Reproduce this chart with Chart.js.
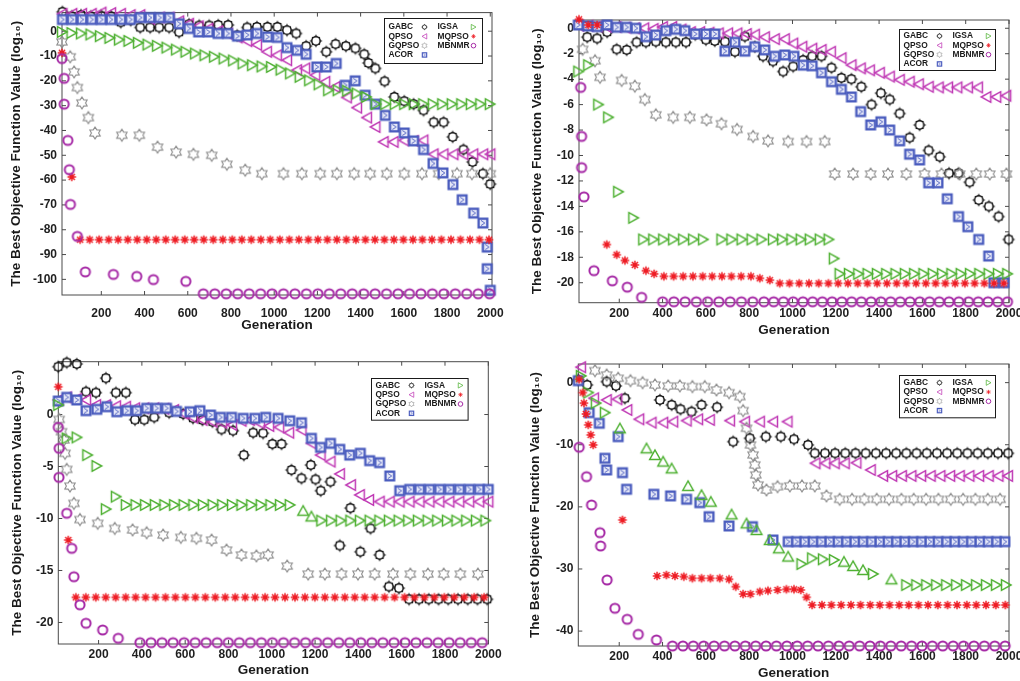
<!DOCTYPE html>
<html>
<head>
<meta charset="utf-8">
<script src="https://cdn.jsdelivr.net/npm/chart.js@4.4.1/dist/chart.umd.min.js"></script>
<style>
  body { margin: 0; background: #fff; width: 1020px; height: 681px; overflow: hidden; position: relative; }
  .cell { position: absolute; }
</style>
</head>
<body>
<div class="cell" style="left:0;top:0"><canvas id="c1" width="510" height="340"></canvas></div>
<div class="cell" style="left:510px;top:0"><canvas id="c2" width="510" height="340"></canvas></div>
<div class="cell" style="left:0;top:340px"><canvas id="c3" width="510" height="341"></canvas></div>
<div class="cell" style="left:510px;top:340px"><canvas id="c4" width="510" height="341"></canvas></div>
<script>
const seriesNames = ['GABC', 'QPSO', 'GQPSO', 'ACOR', 'IGSA', 'MQPSO', 'MBNMR'];
const markerKinds = ['gabc', 'left', 'hexa', 'acor', 'right', 'aster', 'ring'];

const xTicks = [200, 400, 600, 800, 1000, 1200, 1400, 1600, 1800, 2000];
const p1YTicks = [-100, -90, -80, -70, -60, -50, -40, -30, -20, -10, 0];
const p2YTicks = [-20, -18, -16, -14, -12, -10, -8, -6, -4, -2, 0];
const p3YTicks = [-20, -15, -10, -5, 0];
const p4YTicks = [-40, -30, -20, -10, 0];

// ---- panel 1 (top left) ----
const p1GabcX = [20,63,106,151,199,245,290,336,380,426,468,514,560,606,653,699,741,787,829,875,920,969,1015,1059,1102,1148,1193,1241,1284,1332,1376,1417,1436,1468,1511,1556,1602,1645,1691,1738,1784,1826,1876,1918,1966,2000];
const p1GabcY = [7.8,6,6.5,6,6.3,6,3.6,4.4,1.5,1.5,1.5,1.5,-0.4,2.8,2.3,2.3,2.5,2.5,-1.7,1.5,1.7,1.7,1.7,0.4,-0.9,-6,-3.9,-8.3,-5.2,-6,-6.9,-9.3,-12.8,-15,-20.2,-26.5,-28.2,-29.4,-31.9,-36.7,-36.7,-42.6,-47.7,-52.7,-57.4,-61.6];
const p1QpsoX = [20,65,110,155,200,245,290,335,380,425,470,515,560,605,650,695,740,785,830,875,920,966,1012,1059,1105,1143,1190,1236,1282,1336,1383,1429,1468,1506,1552,1600,1645,1690,1737,1783,1829,1875,1921,1967,2000];
const p1QpsoY = [7,7,7,7,7.5,7.3,7,6.5,6.5,5,5.5,5.5,4,3,2,1,0,-1,-2.5,-4,-5.5,-8.3,-9.7,-11.7,-15.7,-15,-17.7,-20.4,-22.5,-26.7,-30.8,-34.8,-38.6,-44.6,-44.6,-44,-44.2,-44,-49.6,-49.6,-49.6,-49.6,-49.6,-49.6,-49.6];
const p1GqpsoX = [18,56,74,89,110,140,171,295,376,460,546,626,711,781,866,943,1043,1128,1213,1290,1370,1444,1521,1602,1684,1761,1846,1915,2000];
const p1GqpsoY = [-4.3,-10.3,-16.4,-22.7,-28.9,-34.8,-41,-41.9,-41.9,-46.7,-48.7,-49.6,-50,-53.6,-56,-57.4,-57.4,-57.4,-57.4,-57.4,-57.4,-57.4,-57.4,-57.4,-57.4,-57.4,-57.4,-57.4,-57.4];
const p1AcorX = [20,65,110,155,200,245,290,335,380,425,470,515,560,605,650,695,740,785,830,875,920,969,1015,1059,1105,1148,1197,1241,1287,1329,1375,1421,1468,1514,1556,1602,1645,1691,1735,1781,1827,1870,1923,1966,1986,1986,2000];
const p1AcorY = [4.7,4.7,4.7,4.7,4.7,4.7,4.7,4.7,5.5,5.5,5.5,5.5,3,1.1,-0.3,-0.3,-0.9,-0.9,-2,-1.5,-0.9,-2.3,-2.5,-6.6,-7.7,-9.3,-14.4,-14.4,-13,-21.8,-20,-25.8,-29.4,-33.9,-38.6,-41,-44.2,-47.7,-53.3,-57.1,-61.8,-67.9,-73.3,-77.3,-87,-95.7,-104.4];
const p1IgsaX = [18,62,106,150,194,238,282,326,370,414,458,502,546,590,634,678,722,766,810,854,898,942,986,1030,1074,1118,1162,1206,1250,1294,1338,1382,1426,1470,1514,1558,1602,1646,1690,1734,1778,1822,1866,1910,1954,1998];
const p1IgsaY = [-0.3,-0.7,-0.9,-1.3,-2,-2.7,-3.4,-3.9,-4.7,-5.4,-5.9,-6.6,-7.4,-8.3,-9,-9.7,-10.3,-11,-11.8,-13,-13.7,-14.2,-14.4,-15.5,-17,-18.4,-19.8,-21.4,-23.8,-23.8,-24,-25.1,-26.5,-29.4,-29.4,-29.4,-29.4,-29.4,-29.4,-29.4,-29.4,-29.4,-29.4,-29.4,-29.4,-29.4];
const p1MqpsoX = [18,63,102,146,190,234,278,322,366,410,454,498,542,586,630,674,718,762,806,850,894,938,982,1026,1070,1114,1158,1202,1246,1290,1334,1378,1422,1466,1510,1554,1598,1642,1686,1730,1774,1818,1862,1906,1950,1994];
const p1MqpsoY = [-8.7,-58.7,-84,-84,-84,-84,-84,-84,-84,-84,-84,-84,-84,-84,-84,-84,-84,-84,-84,-84,-84,-84,-84,-84,-84,-84,-84,-84,-84,-84,-84,-84,-84,-84,-84,-84,-84,-84,-84,-84,-84,-84,-84,-84,-84,-84];
const p1MbnmrX = [18,28,28,45,52,57,89,126,256,364,441,591,672,725,778,831,884,937,990,1043,1096,1149,1202,1255,1308,1361,1414,1467,1520,1573,1626,1679,1732,1785,1838,1891,1944,1997];
const p1MbnmrY = [-11,-19,-29.4,-44,-55.8,-69.8,-82.7,-97,-98,-98.8,-100.1,-100.8,-105.8,-105.8,-105.8,-105.8,-105.8,-105.8,-105.8,-105.8,-105.8,-105.8,-105.8,-105.8,-105.8,-105.8,-105.8,-105.8,-105.8,-105.8,-105.8,-105.8,-105.8,-105.8,-105.8,-105.8,-105.8,-105.8];

// ---- panel 2 (top right) ----
const p2GabcX = [52,98,144,188,234,280,323,369,415,461,508,551,600,641,688,734,780,826,864,910,957,1003,1049,1091,1134,1180,1226,1272,1318,1365,1408,1449,1495,1541,1587,1629,1680,1723,1767,1818,1860,1907,1952,1998];
const p2GabcY = [-0.7,-0.8,-0.3,-1.65,-1.7,-1.1,-1.1,-1.05,-1.1,-1.1,-1.1,-0.5,-0.9,-1,-1.05,-1.85,-0.65,-1.45,-2.2,-2.6,-3.4,-3,-2.5,-2.2,-2.2,-3.1,-3.9,-4,-4.6,-6,-5.1,-5.6,-6.7,-8.6,-7.6,-9.6,-10.1,-11.4,-11.4,-12.1,-13.5,-14,-14.8,-16.6];
const p2QpsoX = [14,57,100,143,186,229,272,315,358,401,444,487,530,573,616,659,702,745,788,826,872,918,964,1003,1045,1091,1134,1177,1226,1272,1315,1357,1403,1449,1495,1541,1583,1629,1675,1718,1761,1810,1856,1895,1941,1987];
const p2QpsoY = [0.2,0.2,0.15,0.1,0.1,0.05,0,0,-0.05,0.1,0.1,-0.1,-0.3,-0.3,-0.35,-0.4,-0.4,-0.4,-0.45,-0.5,-0.7,-0.85,-0.85,-1.2,-1.45,-1.6,-1.7,-1.85,-2.35,-2.9,-3.15,-3.3,-3.5,-3.8,-4.05,-4.2,-4.4,-4.6,-4.65,-4.65,-4.65,-4.65,-4.65,-5.4,-5.4,-5.3];
const p2GqpsoX = [31,88,111,211,272,318,369,449,526,603,672,744,818,887,980,1065,1149,1195,1280,1361,1441,1526,1610,1688,1772,1849,1911,1988];
const p2GqpsoY = [-1.65,-2.55,-3.85,-4.1,-4.55,-5.6,-6.8,-7,-7,-7.2,-7.5,-7.95,-8.5,-8.85,-8.9,-8.9,-8.9,-11.45,-11.45,-11.45,-11.45,-11.45,-11.45,-11.45,-11.45,-11.45,-11.45,-11.45];
const p2AcorX = [11,54,98,144,188,234,277,323,369,415,461,503,551,600,641,688,734,780,826,872,918,964,1007,1049,1091,1134,1180,1226,1272,1315,1361,1408,1449,1495,1541,1587,1629,1672,1715,1767,1810,1860,1906,1930,1977];
const p2AcorY = [0.26,0.18,0.13,0.26,0.08,0.08,0,-0.66,-0.53,-0.19,-0.08,-0.19,-0.45,-0.45,-0.45,-1.8,-1.1,-1.8,-1.45,-1.7,-2.2,-2.1,-2.2,-2.9,-2.95,-3.5,-4.2,-4.8,-5.4,-6.55,-7.6,-7.35,-8,-8.85,-9.9,-10.35,-12.15,-12.15,-13.4,-14.8,-15.6,-16.6,-17.9,-20,-20];
const p2IgsaX = [11,57,103,149,195,265,311,357,403,449,495,541,587,672,718,765,811,857,910,952,995,1038,1080,1126,1167,1191,1218,1261,1304,1347,1390,1433,1476,1519,1562,1605,1648,1691,1734,1777,1820,1863,1906,1949,1992];
const p2IgsaY = [-3.4,-2.9,-6,-7,-12.85,-14.9,-16.6,-16.6,-16.6,-16.6,-16.6,-16.6,-16.6,-16.6,-16.6,-16.6,-16.6,-16.6,-16.6,-16.6,-16.6,-16.6,-16.6,-16.6,-16.6,-18.1,-19.3,-19.3,-19.3,-19.3,-19.3,-19.3,-19.3,-19.3,-19.3,-19.3,-19.3,-19.3,-19.3,-19.3,-19.3,-19.3,-19.3,-19.3,-19.3];
const p2MqpsoX = [14,57,98,142,188,226,272,323,361,406,451,495,540,585,629,674,718,763,808,849,895,941,986,1031,1076,1121,1166,1211,1256,1301,1346,1391,1436,1481,1526,1571,1616,1661,1706,1751,1796,1841,1886,1931,1976];
const p2MqpsoY = [0.7,0.26,0.26,-17,-17.8,-18.25,-18.6,-19.05,-19.3,-19.5,-19.5,-19.5,-19.5,-19.5,-19.5,-19.5,-19.5,-19.5,-19.5,-19.65,-19.8,-20.05,-20.05,-20.05,-20.05,-20.05,-20.05,-20.05,-20.05,-20.05,-20.05,-20.05,-20.05,-20.05,-20.05,-20.05,-20.05,-20.05,-20.05,-20.05,-20.05,-20.05,-20.05,-20.05,-20.05];
const p2MbnmrX = [22,26,26,37,83,168,237,303,400,452,504,556,608,660,712,764,816,868,913,958,1003,1048,1093,1138,1183,1228,1273,1318,1363,1408,1453,1498,1543,1588,1633,1678,1723,1768,1813,1858,1903,1948,1993];
const p2MbnmrY = [-4.65,-8.5,-10.95,-13.25,-19.05,-19.85,-20.35,-21.15,-21.5,-21.5,-21.5,-21.5,-21.5,-21.5,-21.5,-21.5,-21.5,-21.5,-21.5,-21.5,-21.5,-21.5,-21.5,-21.5,-21.5,-21.5,-21.5,-21.5,-21.5,-21.5,-21.5,-21.5,-21.5,-21.5,-21.5,-21.5,-21.5,-21.5,-21.5,-21.5,-21.5,-21.5,-21.5];

// ---- panel 3 (bottom left) ----
const p3GabcX = [14,53,99,142,188,234,280,326,368,411,457,526,591,636,680,726,768,821,871,914,960,1003,1045,1091,1137,1180,1202,1226,1271,1314,1363,1409,1456,1498,1541,1587,1634,1680,1725,1770,1815,1860,1905,1950,1995];
const p3GabcY = [4.6,5,4.86,2.2,2.1,3.5,2.1,2.1,-0.5,-0.5,-0.27,0.18,0.05,-0.35,-0.53,-0.7,-1.43,-1.55,-3.9,-1.75,-1.8,-2.84,-2.84,-5.34,-6.14,-4.86,-6.24,-7.33,-6.46,-12.6,-9,-13.2,-10.95,-13.5,-16.55,-16.7,-17.77,-17.77,-17.77,-17.77,-17.77,-17.77,-17.77,-17.77,-17.77];
const p3QpsoX = [14,53,99,142,188,234,280,326,368,411,457,503,548,591,636,680,726,771,816,860,898,945,988,1034,1080,1137,1183,1225,1271,1314,1365,1406,1449,1498,1544,1590,1636,1682,1728,1774,1820,1866,1912,1958,2000];
const p3QpsoY = [1.4,1.65,1.5,1.4,0.91,0.9,0.8,0.75,0.6,0.6,0.6,0.55,0.43,0.1,-0.3,-0.53,-0.7,-0.79,-1,-0.6,-0.53,-0.85,-1.1,-1.23,-1.75,-1.5,-2.77,-3.9,-4.53,-5.72,-6.78,-7.74,-8.22,-8.38,-8.38,-8.38,-8.38,-8.38,-8.38,-8.38,-8.38,-8.38,-8.38,-8.38,-8.38];
const p3GqpsoX = [18,29,40,45,53,68,86,114,196,275,357,422,498,580,652,722,791,860,929,983,1071,1168,1245,1322,1398,1475,1560,1640,1721,1794,1871,1952];
const p3GqpsoY = [-0.47,-1.65,-2.45,-3.73,-5.27,-6.88,-8.54,-10.1,-10.46,-10.95,-11.1,-11.37,-11.59,-11.81,-11.9,-12.07,-13.03,-13.51,-13.6,-13.5,-14.57,-15.34,-15.34,-15.34,-15.34,-15.34,-15.34,-15.34,-15.34,-15.34,-15.34,-15.34];
const p3AcorX = [14,53,99,142,192,238,284,330,376,422,468,514,560,622,668,717,763,814,868,922,972,1029,1083,1137,1183,1225,1271,1314,1360,1409,1452,1498,1545,1591,1637,1683,1729,1775,1821,1867,1913,1959,2000];
const p3AcorY = [1.3,1.65,1.4,0.37,0.5,0.75,0.27,0.37,0.37,0.6,0.6,0.6,0.3,0.27,0.37,-0.05,-0.27,-0.27,-0.37,-0.37,-0.27,-0.37,-0.6,-0.79,-2.29,-3.16,-2.77,-3.35,-3.9,-3.73,-4.44,-4.63,-5.91,-7.33,-7.2,-7.2,-7.2,-7.2,-7.2,-7.2,-7.2,-7.2,-7.2];
const p3IgsaX = [14,53,99,148,191,234,280,326,371,415,460,504,549,593,638,682,727,771,816,860,905,949,994,1038,1083,1145,1183,1229,1274,1318,1363,1407,1452,1497,1541,1586,1630,1675,1720,1764,1809,1853,1898,1943,1987];
const p3IgsaY = [0.91,-2.3,-2.2,-3.9,-4.95,-9.1,-7.9,-8.7,-8.7,-8.7,-8.7,-8.7,-8.7,-8.7,-8.7,-8.7,-8.7,-8.7,-8.7,-8.7,-8.7,-8.7,-8.7,-8.7,-8.7,-9.25,-9.8,-10.2,-10.2,-10.2,-10.2,-10.2,-10.2,-10.2,-10.2,-10.2,-10.2,-10.2,-10.2,-10.2,-10.2,-10.2,-10.2,-10.2,-10.2];
const p3IgsaUp = [25, 26];
const p3MqpsoX = [14,60,95,141,187,233,279,325,371,417,463,509,555,601,647,693,739,785,831,877,923,969,1015,1061,1107,1153,1199,1245,1291,1337,1383,1429,1475,1521,1567,1613,1659,1705,1751,1797,1843,1889,1935,1981];
const p3MqpsoY = [2.67,-12.07,-17.58,-17.58,-17.58,-17.58,-17.58,-17.58,-17.58,-17.58,-17.58,-17.58,-17.58,-17.58,-17.58,-17.58,-17.58,-17.58,-17.58,-17.58,-17.58,-17.58,-17.58,-17.58,-17.58,-17.58,-17.58,-17.58,-17.58,-17.58,-17.58,-17.58,-17.58,-17.58,-17.58,-17.58,-17.58,-17.58,-17.58,-17.58,-17.58,-17.58,-17.58,-17.58];
const p3MbnmrX = [14,18,17,53,76,86,114,142,219,291,391,442,493,544,595,646,697,748,799,850,901,952,1003,1054,1105,1156,1207,1258,1309,1360,1411,1462,1513,1564,1615,1666,1717,1768,1819,1870,1921,1972];
const p3MbnmrY = [-1.23,-3.25,-6.04,-9.5,-12.87,-15.6,-18.3,-20.08,-20.72,-21.52,-21.94,-21.94,-21.94,-21.94,-21.94,-21.94,-21.94,-21.94,-21.94,-21.94,-21.94,-21.94,-21.94,-21.94,-21.94,-21.94,-21.94,-21.94,-21.94,-21.94,-21.94,-21.94,-21.94,-21.94,-21.94,-21.94,-21.94,-21.94,-21.94,-21.94,-21.94,-21.94];

// ---- panel 4 (bottom right) ----
const p4GabcX = [11,52,142,185,226,388,442,483,534,580,652,726,803,877,946,1007,1072,1103,1150,1197,1244,1291,1338,1385,1432,1479,1526,1573,1620,1667,1714,1761,1808,1855,1902,1949,1996];
const p4GabcY = [0.43,-0.37,0.16,-0.53,-2.52,-2.79,-3.59,-4.29,-4.67,-3.59,-3.96,-9.5,-8.96,-8.7,-8.7,-9.12,-10.03,-11.37,-11.37,-11.37,-11.37,-11.37,-11.37,-11.37,-11.37,-11.37,-11.37,-11.37,-11.37,-11.37,-11.37,-11.37,-11.37,-11.37,-11.37,-11.37,-11.37];
const p4QpsoX = [23,83,142,191,237,292,349,403,449,511,564,618,711,780,849,910,977,1106,1152,1195,1241,1295,1361,1418,1460,1505,1549,1594,1638,1683,1728,1772,1817,1862,1906,1951,1995];
const p4QpsoY = [2.48,-2.52,-2.79,-2.68,-4.4,-5.9,-6.44,-6.44,-6.28,-6.12,-5.9,-6,-6.12,-6.28,-6.28,-6.28,-6.28,-12.98,-12.98,-12.98,-12.98,-12.9,-14.06,-15.02,-15.02,-15.02,-15.02,-15.02,-15.02,-15.02,-15.02,-15.02,-15.02,-15.02,-15.02,-15.02,-15.02];
const p4GqpsoX = [88,142,195,252,308,365,426,480,538,595,649,707,757,772,788,806,818,826,831,841,880,931,988,1044,1103,1157,1218,1275,1332,1389,1446,1503,1560,1617,1674,1731,1788,1845,1902,1959];
const p4GqpsoY = [1.93,1.24,0.71,0.32,0,-0.37,-0.53,-0.53,-0.64,-0.64,-1.18,-1.61,-2.25,-4.5,-7.34,-10.03,-11.64,-13.25,-14.86,-16.47,-17.28,-16.75,-16.63,-16.63,-16.63,-18.24,-18.78,-18.78,-18.78,-18.78,-18.78,-18.78,-18.78,-18.78,-18.78,-18.78,-18.78,-18.78,-18.78,-18.78];
const p4AcorX = [11,61,108,134,142,195,215,234,360,437,511,572,615,707,815,910,980,1019,1057,1096,1134,1173,1211,1250,1288,1327,1365,1404,1442,1481,1519,1558,1596,1635,1673,1712,1750,1789,1827,1866,1904,1943,1981];
const p4AcorY = [0.32,-4.83,-6.54,-12.18,-14.06,-8.7,-14.49,-17.17,-17.97,-18.24,-18.78,-19.32,-21.58,-23.08,-23.19,-25.33,-25.6,-25.6,-25.6,-25.6,-25.6,-25.6,-25.6,-25.6,-25.6,-25.6,-25.6,-25.6,-25.6,-25.6,-25.6,-25.6,-25.6,-25.6,-25.6,-25.6,-25.6,-25.6,-25.6,-25.6,-25.6,-25.6,-25.6];
const p4IgsaX = [23,57,92,134,203,326,365,403,442,518,580,623,719,788,834,895,937,980,1042,1091,1141,1192,1238,1280,1326,1372,1457,1526,1572,1618,1664,1710,1756,1802,1848,1894,1940,1986];
const p4IgsaY = [1.08,-1.6,-3.3,-4.83,-7.35,-10.57,-11.65,-12.7,-13.8,-16.63,-18.08,-19.16,-21.2,-22.65,-23.72,-25.33,-26.67,-28,-29.2,-28.28,-28.44,-28.55,-28.82,-29.52,-30.16,-30.8,-31.66,-32.58,-32.58,-32.58,-32.58,-32.58,-32.58,-32.58,-32.58,-32.58,-32.58,-32.58];
const p4IgsaUp = [4,5,6,7,8,9,10,11,12,13,14,15,16,17,22,23,24,26];
const p4MqpsoX = [15,31,37,46,57,68,80,215,375,418,457,498,538,580,621,664,707,738,772,806,849,887,931,972,1007,1038,1065,1091,1136,1180,1225,1270,1314,1359,1403,1448,1493,1537,1582,1626,1671,1716,1760,1805,1849,1894,1939,1983];
const p4MqpsoY = [0.54,-1.6,-3.3,-5.04,-6.8,-8.42,-10.03,-22.1,-31.13,-30.97,-31.13,-31.24,-31.5,-31.5,-31.5,-31.5,-31.66,-32.85,-34.03,-34.03,-33.65,-33.49,-33.38,-33.27,-33.27,-33.38,-34.56,-35.8,-35.8,-35.8,-35.8,-35.8,-35.8,-35.8,-35.8,-35.8,-35.8,-35.8,-35.8,-35.8,-35.8,-35.8,-35.8,-35.8,-35.8,-35.8,-35.8,-35.8];
const p4MbnmrX = [15,49,72,111,114,144,180,237,288,372,446,494,542,590,638,686,734,782,830,878,926,974,1022,1070,1118,1166,1214,1262,1310,1358,1406,1454,1502,1550,1598,1646,1694,1742,1790,1838,1886,1934,1982];
const p4MbnmrY = [-10.4,-15.14,-19.7,-24.15,-26.3,-31.77,-36.33,-38.1,-40.52,-41.43,-42.4,-42.4,-42.4,-42.4,-42.4,-42.4,-42.4,-42.4,-42.4,-42.4,-42.4,-42.4,-42.4,-42.4,-42.4,-42.4,-42.4,-42.4,-42.4,-42.4,-42.4,-42.4,-42.4,-42.4,-42.4,-42.4,-42.4,-42.4,-42.4,-42.4,-42.4,-42.4,-42.4];

const FONT = '"Liberation Sans", Arial, "DejaVu Sans", sans-serif';

// marker glyphs, drawn around (0,0)
function drawMarker(ctx, kind, s) {
    ctx.save();
    ctx.scale(s, s);
    ctx.lineJoin = 'miter';
    if (kind === 'gabc') {
        ctx.strokeStyle = '#111';
        ctx.lineWidth = 1.5;
        ctx.beginPath();
        ctx.arc(0, 0, 4.2, 0, Math.PI * 2);
        ctx.stroke();
        ctx.lineWidth = 1.1;
        ctx.beginPath();
        for (let k = 0; k < 8; k++) {
            const a = k * Math.PI / 4;
            const len = k % 2 ? 5.5 : 6.2;
            ctx.moveTo(Math.cos(a) * 4.2, Math.sin(a) * 4.2);
            ctx.lineTo(Math.cos(a) * len, Math.sin(a) * len);
        }
        ctx.stroke();
    } else if (kind === 'left' || kind === 'right' || kind === 'up') {
        ctx.strokeStyle = kind === 'left' ? '#c03ab5' : '#4fb133';
        ctx.lineWidth = 1.5;
        ctx.beginPath();
        if (kind === 'left') {
            ctx.moveTo(-5, 0); ctx.lineTo(4.5, -5.3); ctx.lineTo(4.5, 5.3);
        } else if (kind === 'right') {
            ctx.moveTo(5, 0); ctx.lineTo(-4.5, -5.3); ctx.lineTo(-4.5, 5.3);
        } else {
            ctx.moveTo(0, -5); ctx.lineTo(5.3, 4.5); ctx.lineTo(-5.3, 4.5);
        }
        ctx.closePath();
        ctx.stroke();
    } else if (kind === 'hexa') {
        ctx.strokeStyle = '#8c8c8c';
        ctx.lineWidth = 1.1;
        ctx.beginPath();
        for (let k = 0; k < 12; k++) {
            const a = -Math.PI / 2 + k * Math.PI / 6;
            const r = k % 2 ? 3.6 : 6;
            if (k === 0) ctx.moveTo(Math.cos(a) * r, Math.sin(a) * r);
            else ctx.lineTo(Math.cos(a) * r, Math.sin(a) * r);
        }
        ctx.closePath();
        ctx.stroke();
    } else if (kind === 'acor') {
        ctx.fillStyle = '#4a5cbe';
        ctx.fillRect(-5.5, -5.5, 11, 11);
        ctx.fillStyle = '#e6e8f8';
        ctx.fillRect(-3.2, -3.2, 6.4, 6.4);
        ctx.strokeStyle = '#4a5cbe';
        ctx.lineWidth = 0.9;
        ctx.beginPath();
        ctx.moveTo(-2, -2.6); ctx.lineTo(1.8, 0); ctx.lineTo(-2, 2.6);
        ctx.stroke();
    } else if (kind === 'aster') {
        ctx.strokeStyle = '#ee1c24';
        ctx.lineWidth = 1.5;
        ctx.beginPath();
        for (let k = 0; k < 4; k++) {
            const a = k * Math.PI / 4;
            ctx.moveTo(-Math.cos(a) * 4.3, -Math.sin(a) * 4.3);
            ctx.lineTo(Math.cos(a) * 4.3, Math.sin(a) * 4.3);
        }
        ctx.stroke();
    } else if (kind === 'ring') {
        ctx.strokeStyle = '#a62aa6';
        ctx.lineWidth = 2;
        ctx.beginPath();
        ctx.arc(0, 0, 4.6, 0, Math.PI * 2);
        ctx.stroke();
    }
    ctx.restore();
}

function markerCanvas(kind) {
    const c = document.createElement('canvas');
    c.width = 16;
    c.height = 16;
    const ctx = c.getContext('2d');
    ctx.translate(8, 8);
    drawMarker(ctx, kind, 1);
    return c;
}

const markers = {};
['gabc', 'left', 'right', 'up', 'hexa', 'acor', 'aster', 'ring'].forEach(k => { markers[k] = markerCanvas(k); });

// box round the plot with inward ticks on all four sides
const framePlugin = {
    id: 'frame',
    beforeDatasetsDraw(chart) {
        const { ctx, chartArea: a, scales: { x, y } } = chart;
        ctx.save();
        ctx.strokeStyle = '#4a4a4a';
        ctx.lineWidth = 1;
        ctx.strokeRect(a.left, a.top, a.right - a.left, a.bottom - a.top);
        ctx.beginPath();
        x.ticks.forEach(t => {
            const px = x.getPixelForValue(t.value);
            ctx.moveTo(px, a.bottom); ctx.lineTo(px, a.bottom - 4);
            ctx.moveTo(px, a.top); ctx.lineTo(px, a.top + 4);
        });
        y.ticks.forEach(t => {
            const py = y.getPixelForValue(t.value);
            ctx.moveTo(a.left, py); ctx.lineTo(a.left + 4, py);
            ctx.moveTo(a.right, py); ctx.lineTo(a.right - 4, py);
        });
        ctx.stroke();
        ctx.restore();
    }
};

// two-column legend box, marker after the name
const boxLegend = {
    id: 'boxLegend',
    afterDatasetsDraw(chart, args, opts) {
        const { ctx, chartArea } = chart;
        const left = Math.round(chartArea.right - opts.right - opts.w) + 0.5;
        const top = Math.round(chartArea.top + opts.top) + 0.5;
        ctx.save();
        ctx.fillStyle = '#fff';
        ctx.fillRect(left, top, opts.w, opts.h);
        ctx.strokeStyle = '#1a1a1a';
        ctx.lineWidth = 1;
        ctx.strokeRect(left, top, opts.w, opts.h);
        ctx.font = 'bold 8.4px ' + FONT;
        ctx.textBaseline = 'middle';
        ctx.fillStyle = '#1a1a1a';
        seriesNames.forEach((name, i) => {
            const col = i < 4 ? 0 : 1;
            const row = col ? i - 4 : i;
            const yy = top + opts.h / 2 + (row - 1.5) * 9.3;
            ctx.fillText(name, left + (col ? 53 : 4), yy);
            ctx.save();
            ctx.translate(left + (col ? 89 : 40), yy);
            drawMarker(ctx, markerKinds[i], 0.5);
            ctx.restore();
        });
        ctx.restore();
    }
};

const panels = [
    {
        id: 'c1', w: 510, h: 340, area: { l: 62, r: 492, t: 12.6, b: 295 },
        xRange: [18, 2008], yRange: [-106.3, 7.5], yTicks: p1YTicks,
        xPad: 11, yTitlePad: 8, xTitlePad: 6.9,
        legend: { right: 10.3, top: 5.7, w: 98, h: 45 },
        series: [[p1GabcX, p1GabcY], [p1QpsoX, p1QpsoY], [p1GqpsoX, p1GqpsoY], [p1AcorX, p1AcorY],
                 [p1IgsaX, p1IgsaY], [p1MqpsoX, p1MqpsoY], [p1MbnmrX, p1MbnmrY]],
        up: []
    },
    {
        id: 'c2', w: 510, h: 340, area: { l: 69, r: 499, t: 20, b: 302.7 },
        xRange: [14, 2000], yRange: [-21.57, 0.65], yTicks: p2YTicks,
        xPad: 4, yTitlePad: 19, xTitlePad: 1.9,
        legend: { right: 14, top: 9.3, w: 96, h: 41 },
        series: [[p2GabcX, p2GabcY], [p2QpsoX, p2QpsoY], [p2GqpsoX, p2GqpsoY], [p2AcorX, p2AcorY],
                 [p2IgsaX, p2IgsaY], [p2MqpsoX, p2MqpsoY], [p2MbnmrX, p2MbnmrY]],
        up: []
    },
    {
        id: 'c3', w: 510, h: 341, area: { l: 58.3, r: 488.3, t: 21.7, b: 304 },
        xRange: [14, 2000], yRange: [-22.07, 5.08], yTicks: p3YTicks,
        xPad: 3, yTitlePad: 9, xTitlePad: 2.9,
        legend: { right: 21, top: 16.6, w: 96.6, h: 41.7 },
        series: [[p3GabcX, p3GabcY], [p3QpsoX, p3QpsoY], [p3GqpsoX, p3GqpsoY], [p3AcorX, p3AcorY],
                 [p3IgsaX, p3IgsaY], [p3MqpsoX, p3MqpsoY], [p3MbnmrX, p3MbnmrY]],
        up: p3IgsaUp
    },
    {
        id: 'c4', w: 510, h: 341, area: { l: 68.3, r: 499, t: 24, b: 306 },
        xRange: [11, 2000], yRange: [-42.4, 3.0], yTicks: p4YTicks,
        xPad: 3, yTitlePad: 17, xTitlePad: 0,
        legend: { right: 14, top: 11, w: 96, h: 42.3 },
        series: [[p4GabcX, p4GabcY], [p4QpsoX, p4QpsoY], [p4GqpsoX, p4GqpsoY], [p4AcorX, p4AcorY],
                 [p4IgsaX, p4IgsaY], [p4MqpsoX, p4MqpsoY], [p4MbnmrX, p4MbnmrY]],
        up: p4IgsaUp
    }
];

const tickFont = { family: FONT, size: 12, weight: 'bold' };
const titleFont = { family: FONT, size: 13.5, weight: 'bold' };

function buildPanel(p) {
    const datasets = p.series.map(([xs, ys], i) => {
        let style = markers[markerKinds[i]];
        if (i === 4 && p.up.length) {
            style = c => (p.up.includes(c.dataIndex) ? markers.up : markers.right);
        }
        return {
            label: seriesNames[i],
            data: xs.map((v, k) => ({ x: v, y: ys[k] })),
            pointStyle: style,
            pointRadius: 6,
            pointHoverRadius: 6,
            showLine: false,
            clip: false,
            order: seriesNames.length - i
        };
    });

    new Chart(document.getElementById(p.id), {
        type: 'scatter',
        data: { datasets },
        options: {
            responsive: false,
            animation: false,
            devicePixelRatio: 1,
            layout: { padding: { top: p.area.t, right: p.w - p.area.r, left: 0, bottom: 0 } },
            plugins: {
                legend: { display: false },
                tooltip: { enabled: false },
                boxLegend: p.legend
            },
            scales: {
                x: {
                    type: 'linear',
                    min: p.xRange[0],
                    max: p.xRange[1],
                    grid: { display: false, drawTicks: false },
                    border: { display: false },
                    ticks: { padding: p.xPad, font: tickFont, color: '#1f1f1f', autoSkip: false, maxRotation: 0,
                             callback: v => String(v) },
                    afterBuildTicks: s => { s.ticks = xTicks.map(v => ({ value: v })); },
                    afterFit: s => { s.height = p.h - p.area.b; s.paddingLeft = 0; s.paddingRight = 0; },
                    title: { display: true, text: 'Generation', font: titleFont, color: '#1a1a1a',
                             padding: { top: 0, bottom: p.xTitlePad } }
                },
                y: {
                    type: 'linear',
                    min: p.yRange[0],
                    max: p.yRange[1],
                    grid: { display: false, drawTicks: false },
                    border: { display: false },
                    ticks: { padding: 5, font: tickFont, color: '#1f1f1f', autoSkip: false,
                             callback: v => String(v) },
                    afterBuildTicks: s => { s.ticks = p.yTicks.map(v => ({ value: v })); },
                    afterFit: s => { s.width = p.area.l; s.paddingTop = 0; s.paddingBottom = 0; },
                    title: { display: true, text: 'The Best Objective Function Value (log\u2081\u2080)', font: titleFont,
                             color: '#1a1a1a', padding: { top: p.yTitlePad, bottom: 0 } }
                }
            }
        },
        plugins: [framePlugin, boxLegend]
    });
}

panels.forEach(buildPanel);
</script>
</body>
</html>
